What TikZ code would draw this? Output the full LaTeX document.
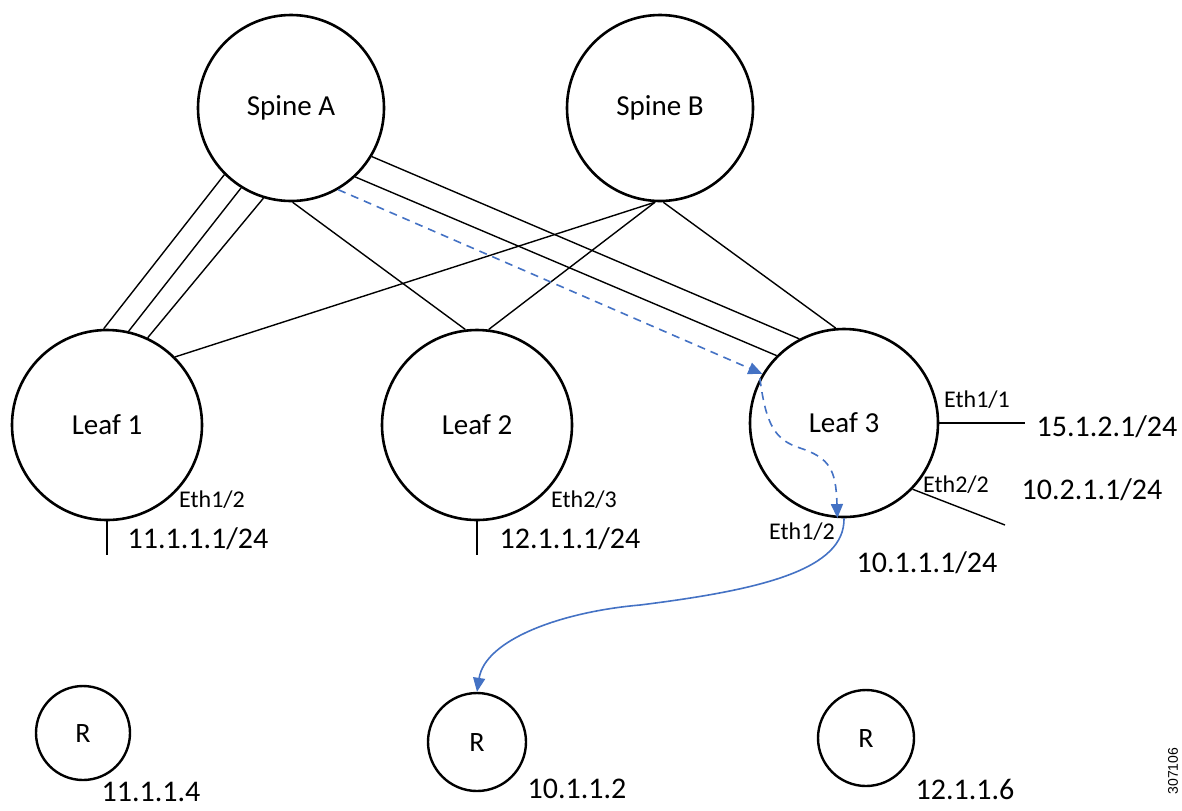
\documentclass[tikz,border=0pt]{standalone}
\usepackage{fontspec}
\setmainfont{Carlito}
\newfontfamily\helv{Liberation Sans}
\usetikzlibrary{arrows.meta}
\definecolor{flowblue}{HTML}{4472C4}
\tikzset{
  sw/.style={draw, circle, line width=1.3pt, inner sep=0pt, font=\fontsize{14.5}{17}\selectfont},
  hostnode/.style={draw, circle, line width=1.2pt, inner sep=0pt, minimum size=48pt, font=\fontsize{14}{16}\selectfont},
  link/.style={line width=0.7pt},
  portlbl/.style={font=\fontsize{12}{14}\selectfont, inner sep=0pt},
  iplbl/.style={font=\fontsize{15}{17}\selectfont, inner sep=0pt},
  flow/.style={draw=flowblue, line width=0.8pt, -{Triangle[length=7pt,width=6pt]}, color=flowblue},
  dashflow/.style={flow, dash pattern=on 4pt off 3pt},
}
\begin{document}
\begin{tikzpicture}[x=0.5pt,y=-0.5pt]
\useasboundingbox (0,0) rectangle (1182,810);
% switches
\node[sw, minimum size=93pt] (spA) at (291,108) {Spine A};
\node[sw, minimum size=93pt] (spB) at (660,108) {Spine B};
\node[sw, minimum size=95pt] (L1) at (107,425) {Leaf 1};
\node[sw, minimum size=95pt] (L2) at (477,425) {Leaf 2};
\node[sw, minimum size=94pt] (L3) at (844,423) {Leaf 3};
% hosts
\node[hostnode, minimum size=47pt] (R1) at (83,733) {R};
\node[hostnode, minimum size=49pt] (R2) at (477,742) {R};
\node[hostnode, minimum size=48pt] (R3) at (866,738) {R};
% fabric links
\draw[link] (spA.-135) -- (L1.92);
\draw[link] (spA.-122) -- (L1.77);
\draw[link] (spA.-107) -- (L1.65);
\draw[link] (spA.-89) -- (L2.97);
\draw[link] (spB.-93) -- (L2.83);
\draw[link] (spB.-93) -- (L1.45);
\draw[link] (spB.-88) -- (L3.95);
\draw[link] (spA.-31) -- (L3.118);
\draw[link] (spA.-47) -- (L3.135);
% access links
\coordinate (e11) at (1025,423);
\coordinate (e22) at (1005,525);
\coordinate (l1d) at (107,555);
\coordinate (l2d) at (477,555);
\draw[link] (L3.0) -- (e11);
\draw[link] (L3.-44) -- (e22);
\draw[link] (L1.-90) -- (l1d);
\draw[link] (L2.-90) -- (l2d);
% labels
\node[portlbl] (p1) at (212,500) {Eth1/2};
\node[iplbl] (ip1) at (198,539) {11.1.1.1/24};
\node[portlbl] (p2) at (584,500) {Eth2/3};
\node[iplbl] (ip2) at (570,539) {12.1.1.1/24};
\node[portlbl] (p3) at (977,400) {Eth1/1};
\node[iplbl] (ip3) at (1107,427) {15.1.2.1/24};
\node[portlbl] (p4) at (956,485) {Eth2/2};
\node[iplbl] (ip4) at (1092,490) {10.2.1.1/24};
\node[portlbl] (p5) at (802,532) {Eth1/2};
\node[iplbl] (ip5) at (927,563) {10.1.1.1/24};
\node[iplbl] (h1) at (151,792) {11.1.1.4};
\node[iplbl] (h2) at (577,789) {10.1.1.2};
\node[iplbl] (h3) at (965,789) {12.1.1.6};
\node[font=\helv\fontsize{7}{8}\selectfont, rotate=90, inner sep=0pt] (fig) at (1173,771) {307106};
% flow
\draw[dashflow] (spA.-60) -- (L3.149);
\draw[dashflow] (L3.152) .. controls (766,425) and (775,440) .. (800,448) .. controls (830,458) and (836,470) .. (L3.-94);
\draw[flow] (L3.-90) .. controls (845,570) and (760,590) .. (640,605) .. controls (560,612) and (485,640) .. (R2.90);
\end{tikzpicture}
\end{document}
